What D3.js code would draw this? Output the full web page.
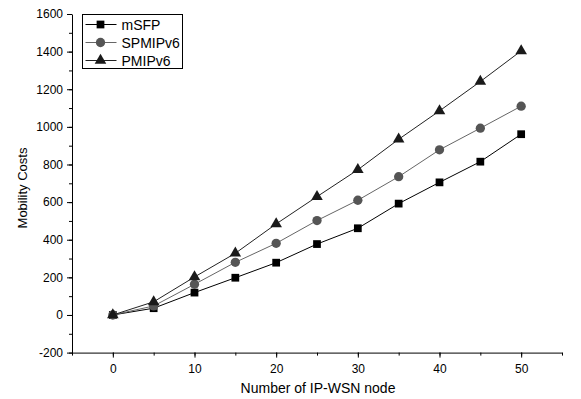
<!DOCTYPE html>
<html>
<head>
<meta charset="utf-8">
<script src="https://cdn.jsdelivr.net/npm/d3@7"></script>
<style>
  body { margin: 0; background: #fff; }
  svg { display: block; font-family: "Liberation Sans", Arial, sans-serif; }
</style>
</head>
<body>
<div id="chart"></div>
<script>
// chart data
const nodes = [0, 5, 10, 15, 20, 25, 30, 35, 40, 45, 50];
const mSFP = [0, 36, 119, 198, 278, 377, 461, 592, 705, 815, 961];
const SPMIPv6 = [0, 48, 163, 280, 381, 502, 610, 735, 878, 993, 1110];
const PMIPv6 = [0, 70, 202, 328, 484, 629, 772, 934, 1085, 1241, 1404];
const seriesNames = ["mSFP", "SPMIPv6", "PMIPv6"];
const xTicks = [0, 10, 20, 30, 40, 50];
const yTicks = [-200, 0, 200, 400, 600, 800, 1000, 1200, 1400, 1600];

const width = 581;
const height = 399;
const area = { left: 72, right: 562, top: 14, bottom: 352.6 };

const svg = d3.select("#chart")
  .append("svg")
  .attr("width", width)
  .attr("height", height);

const x = d3.scaleLinear().domain([-5, 55]).range([area.left, area.right]);
const y = d3.scaleLinear().domain([-200, 1600]).range([area.bottom, area.top]);

// minor ticks first
svg.append("g")
  .attr("transform", `translate(0,${area.bottom})`)
  .call(d3.axisBottom(x).tickValues(d3.range(-5, 56, 5)).tickSize(3).tickFormat(""))
  .call(g => g.select(".domain").remove());
svg.append("g")
  .attr("transform", `translate(${area.left},0)`)
  .call(d3.axisLeft(y).tickValues(d3.range(-200, 1601, 100)).tickSize(3).tickFormat(""))
  .call(g => g.select(".domain").remove());

// main axes, plain numbers (no thousands separator)
svg.append("g")
  .attr("transform", `translate(0,${area.bottom})`)
  .call(d3.axisBottom(x).tickValues(xTicks).tickSize(5).tickSizeOuter(0)
    .tickPadding(7).tickFormat(d => String(d)));
svg.append("g")
  .attr("transform", `translate(${area.left},0)`)
  .call(d3.axisLeft(y).tickValues(yTicks).tickSize(5).tickSizeOuter(0)
    .tickPadding(4).tickFormat(d => String(d)));

svg.selectAll(".tick text").attr("font-size", 12).attr("fill", "#000")
  .attr("font-family", "Liberation Sans, Arial, sans-serif");
svg.selectAll(".domain, .tick line").attr("stroke", "#000");

// axis titles
svg.append("text")
  .attr("x", 318)
  .attr("y", 393)
  .attr("text-anchor", "middle")
  .attr("font-size", 14)
  .text("Number of IP-WSN node");

svg.append("text")
  .attr("transform", "translate(27,188) rotate(-90)")
  .attr("text-anchor", "middle")
  .attr("font-size", 13)
  .text("Mobility Costs");

const series = [
  { name: seriesNames[0], values: mSFP, line: "#000", fill: "#000", symbol: d3.symbolSquare, size: 60 },
  { name: seriesNames[1], values: SPMIPv6, line: "#666", fill: "#555", symbol: d3.symbolCircle, size: 68 },
  { name: seriesNames[2], values: PMIPv6, line: "#222", fill: "#1a1a1a", symbol: d3.symbolTriangle, size: 58 },
];

const line = d3.line()
  .x((d, i) => x(nodes[i]))
  .y(d => y(d));

series.forEach(s => {
  svg.append("path")
    .datum(s.values)
    .attr("fill", "none")
    .attr("stroke", s.line)
    .attr("stroke-width", 1)
    .attr("d", line);

  svg.append("g")
    .selectAll("path")
    .data(s.values)
    .join("path")
    .attr("transform", (d, i) => `translate(${x(nodes[i])},${y(d)})`)
    .attr("d", d3.symbol().type(s.symbol).size(s.size))
    .attr("fill", s.fill);
});

// legend
const legend = svg.append("g").attr("transform", "translate(82.5,14.5)");
legend.append("rect")
  .attr("width", 100)
  .attr("height", 54)
  .attr("fill", "#fff")
  .attr("stroke", "#000")
  .attr("stroke-width", 1);

series.forEach((s, i) => {
  const row = legend.append("g").attr("transform", `translate(0,${10 + i * 18})`);
  row.append("line")
    .attr("x1", 3).attr("x2", 34)
    .attr("stroke", s.line)
    .attr("stroke-width", 1);
  row.append("path")
    .attr("transform", "translate(18,0)")
    .attr("d", d3.symbol().type(s.symbol).size(s.size))
    .attr("fill", s.fill);
  row.append("text")
    .attr("x", 39)
    .attr("y", 5)
    .attr("font-size", 14)
    .text(s.name);
});
</script>
</body>
</html>
